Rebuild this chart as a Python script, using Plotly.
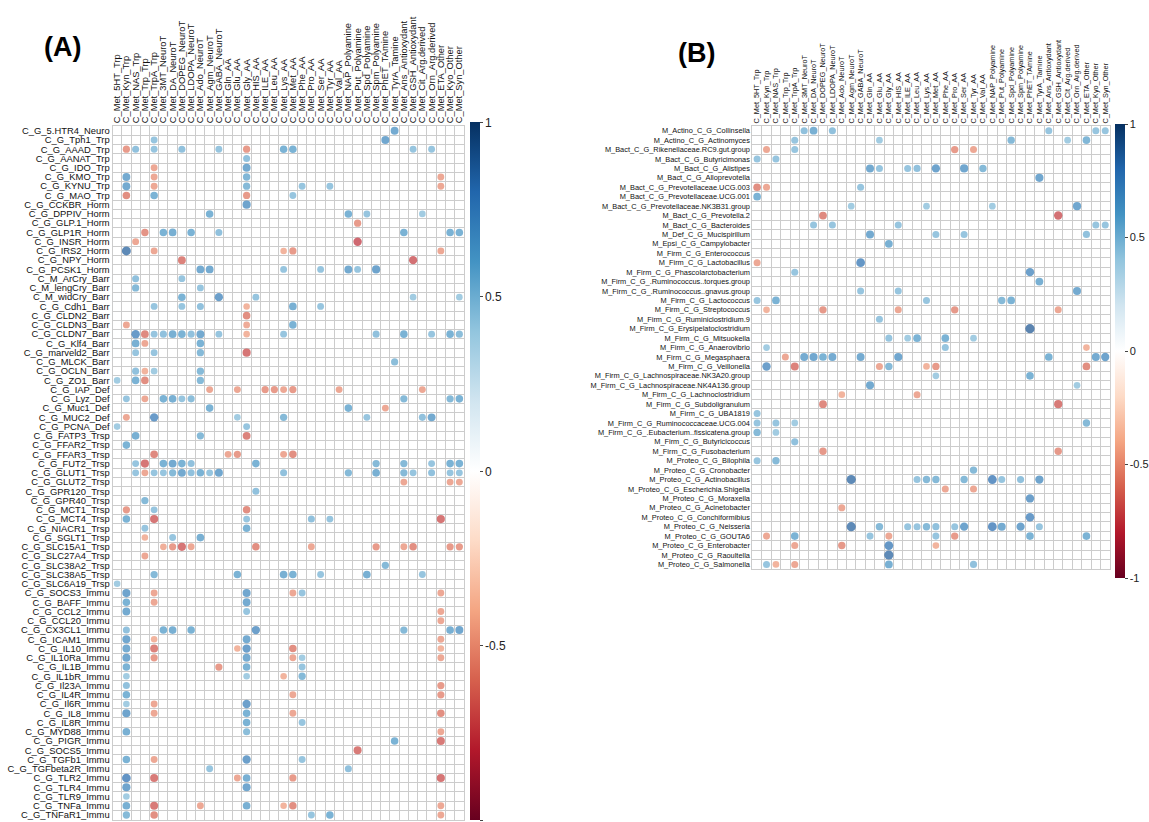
import math
import plotly.graph_objects as go

W, H = 1149, 822

# Metabolite columns shared by both panels
cols = ["C_Met_5HT_Trp", "C_Met_Kyn_Trp", "C_Met_NAS_Trp", "C_Met_Trp_Trp", "C_Met_TrpA_Trp",
        "C_Met_3MT_NeuroT", "C_Met_DA_NeuroT", "C_Met_DOPEG_NeuroT", "C_Met_LDOPA_NeuroT",
        "C_Met_Ado_NeuroT", "C_Met_Agm_NeuroT", "C_Met_GABA_NeuroT", "C_Met_Gln_AA", "C_Met_Glu_AA",
        "C_Met_Gly_AA", "C_Met_HIS_AA", "C_Met_ILE_AA", "C_Met_Leu_AA", "C_Met_Lys_AA", "C_Met_Met_AA",
        "C_Met_Phe_AA", "C_Met_Pro_AA", "C_Met_Ser_AA", "C_Met_Tyr_AA", "C_Met_Val_AA",
        "C_Met_NAP_Polyamine", "C_Met_Put_Polyamine", "C_Met_Spd_Polyamine", "C_Met_Spm_Polyamine",
        "C_Met_PhET_TAmine", "C_Met_TyrA_Tamine", "C_Met_Ans_Antioxydant", "C_Met_GSH_Antioxydant",
        "C_Met_Cit_Arg.derived", "C_Met_Orn_Arg.derived", "C_Met_ETA_Other", "C_Met_Kyo_Other",
        "C_Met_Syn_Other"]

# Panel A: host gene / mucosal variables
rows_a = ["C_G_5.HTR4_Neuro", "C_G_Tph1_Trp", "C_G_AAAD_Trp", "C_G_AANAT_Trp", "C_G_IDO_Trp",
          "C_G_KMO_Trp", "C_G_KYNU_Trp", "C_G_MAO_Trp", "C_G_CCKBR_Horm", "C_G_DPPIV_Horm",
          "C_G_GLP.1_Horm", "C_G_GLP1R_Horm", "C_G_INSR_Horm", "C_G_IRS2_Horm", "C_G_NPY_Horm",
          "C_G_PCSK1_Horm", "C_M_ArCry_Barr", "C_M_lengCry_Barr", "C_M_widCry_Barr", "C_G_Cdh1_Barr",
          "C_G_CLDN2_Barr", "C_G_CLDN3_Barr", "C_G_CLDN7_Barr", "C_G_Klf4_Barr", "C_G_marveld2_Barr",
          "C_G_MLCK_Barr", "C_G_OCLN_Barr", "C_G_ZO1_Barr", "C_G_IAP_Def", "C_G_Lyz_Def",
          "C_G_Muc1_Def", "C_G_MUC2_Def", "C_G_PCNA_Def", "C_G_FATP3_Trsp", "C_G_FFAR2_Trsp",
          "C_G_FFAR3_Trsp", "C_G_FUT2_Trsp", "C_G_GLUT1_Trsp", "C_G_GLUT2_Trsp", "C_G_GPR120_Trsp",
          "C_G_GPR40_Trsp", "C_G_MCT1_Trsp", "C_G_MCT4_Trsp", "C_G_NIACR1_Trsp", "C_G_SGLT1_Trsp",
          "C_G_SLC15A1_Trsp", "C_G_SLC27A4_Trsp", "C_G_SLC38A2_Trsp", "C_G_SLC38A5_Trsp",
          "C_G_SLC6A19_Trsp", "C_G_SOCS3_Immu", "C_G_BAFF_Immu", "C_G_CCL2_Immu", "C_G_CCL20_Immu",
          "C_G_CX3CL1_Immu", "C_G_ICAM1_Immu", "C_G_IL10_Immu", "C_G_IL10Ra_Immu", "C_G_IL1B_Immu",
          "C_G_IL1bR_Immu", "C_G_Il23A_Immu", "C_G_IL4R_Immu", "C_G_Il6R_Immu", "C_G_IL8_Immu",
          "C_G_IL8R_Immu", "C_G_MYD88_Immu", "C_G_PIGR_Immu", "C_G_SOCS5_Immu", "C_G_TGFb1_Immu",
          "C_G_TGFbeta2R_Immu", "C_G_TLR2_Immu", "C_G_TLR4_Immu", "C_G_TLR9_Immu", "C_G_TNFa_Immu",
          "C_G_TNFaR1_Immu"]

# significant correlations per row: (column index, r)
vals_a = [
    [(30, 0.65)],
    [(4, 0.5), (29, 0.68)],
    [(1, -0.55), (2, 0.52), (4, 0.5), (7, 0.52), (11, 0.5), (14, -0.55), (18, 0.6), (19, 0.6), (32, 0.5), (34, 0.5)],
    [(14, 0.52)],
    [(4, -0.5), (14, 0.66)],
    [(1, 0.66), (4, -0.5), (14, 0.58), (35, -0.5)],
    [(1, 0.66), (4, -0.5), (14, 0.56), (20, 0.5), (23, 0.5), (35, -0.5)],
    [(1, -0.6), (4, 0.6), (14, -0.55), (19, 0.5)],
    [(14, 0.7)],
    [(10, 0.6), (25, 0.6), (27, 0.5), (33, 0.46)],
    [(26, -0.55)],
    [(3, -0.58), (5, 0.6), (6, 0.62), (8, 0.6), (11, 0.52), (31, 0.6), (36, 0.6), (37, 0.6)],
    [(2, -0.5), (26, -0.75)],
    [(1, 0.85), (4, -0.5), (18, -0.45), (19, -0.55), (35, -0.5)],
    [(7, -0.65), (32, -0.72)],
    [(9, 0.65), (10, 0.65), (18, 0.5), (22, 0.5), (25, 0.66), (26, 0.5), (28, 0.7)],
    [(2, 0.52), (7, 0.5)],
    [(2, 0.56), (9, 0.5)],
    [(7, 0.6), (11, 0.72), (15, 0.5), (32, 0.46), (37, 0.46)],
    [(4, 0.5), (7, 0.5), (9, 0.52), (14, -0.45), (19, 0.62), (22, 0.5)],
    [(14, -0.6)],
    [(1, -0.5), (14, -0.48), (19, 0.6)],
    [(2, 0.75), (3, -0.62), (4, 0.5), (5, 0.52), (6, 0.62), (7, 0.6), (8, 0.52), (9, 0.66), (11, 0.5), (14, -0.45),
     (18, 0.5), (28, 0.52), (31, 0.6), (34, 0.5), (36, 0.6), (37, 0.54)],
    [(2, 0.62), (3, -0.5), (9, 0.6)],
    [(2, 0.5), (4, 0.5), (9, 0.56), (14, -0.7)],
    [(30, 0.54)],
    [(2, 0.52), (3, -0.45), (4, 0.46), (9, 0.56)],
    [(0, 0.46), (2, 0.6), (3, -0.6), (9, 0.56)],
    [(10, -0.5), (13, -0.5), (16, -0.55), (17, -0.55), (18, -0.5), (19, -0.55), (24, -0.5), (33, -0.5)],
    [(1, 0.5), (3, -0.5), (5, 0.6), (6, 0.62), (7, 0.5), (8, 0.54), (31, 0.56), (36, 0.56), (37, 0.6)],
    [(10, 0.6), (25, 0.6), (29, -0.5)],
    [(1, -0.5), (4, 0.75), (13, 0.46), (18, 0.56), (27, 0.5), (33, 0.52), (34, 0.66)],
    [(0, 0.46), (14, 0.5)],
    [(2, 0.62), (9, 0.56), (14, -0.65)],
    [(1, 0.6)],
    [(4, -0.62), (12, -0.5), (13, -0.55), (18, -0.5), (19, -0.6)],
    [(2, 0.5), (3, -0.7), (5, 0.6), (6, 0.66), (7, 0.6), (8, 0.52), (15, 0.6), (28, 0.56), (31, 0.56), (34, 0.5),
     (36, 0.6), (37, 0.6)],
    [(2, 0.5), (3, -0.5), (4, 0.5), (5, 0.5), (6, 0.56), (7, 0.66), (8, 0.52), (9, 0.6), (10, 0.5), (11, 0.68),
     (18, 0.52), (25, 0.56), (28, 0.62), (31, 0.56), (32, 0.5), (34, 0.52), (36, 0.5), (37, 0.5)],
    [(31, -0.5), (36, -0.5), (37, -0.5)],
    [(15, 0.52)],
    [(3, 0.56)],
    [(1, -0.55), (4, 0.5), (14, -0.6)],
    [(1, 0.6), (4, -0.7), (14, 0.5), (21, 0.52), (23, 0.5), (35, -0.7)],
    [(3, 0.5), (14, 0.6)],
    [(3, -0.45), (6, 0.5), (9, 0.62)],
    [(5, -0.47), (6, -0.55), (7, -0.7), (8, -0.5), (15, -0.6), (21, -0.5), (28, -0.55), (31, -0.5), (32, -0.6),
     (36, -0.55), (37, -0.55)],
    [(3, -0.5)],
    [(29, 0.56)],
    [(4, 0.56), (13, 0.6), (18, 0.62), (19, 0.6), (22, 0.5), (27, 0.62), (33, 0.5)],
    [(0, 0.46)],
    [(1, 0.7), (4, -0.5), (14, 0.68), (19, -0.5), (20, 0.5), (35, -0.5)],
    [(1, 0.6), (4, -0.5), (14, 0.65)],
    [(1, 0.65), (14, 0.5), (35, -0.5)],
    [(35, -0.5)],
    [(1, 0.52), (5, 0.6), (6, 0.62), (8, 0.6), (15, 0.72), (31, 0.56), (36, 0.62), (37, 0.68)],
    [(1, 0.68), (4, -0.45), (14, 0.65), (35, -0.5)],
    [(1, 0.65), (4, -0.65), (13, -0.45), (14, 0.72), (19, -0.6), (35, -0.45)],
    [(1, 0.68), (4, -0.55), (14, 0.65), (19, -0.5), (20, 0.46), (35, -0.5)],
    [(1, 0.6), (11, -0.55), (14, 0.6), (20, 0.5)],
    [(1, 0.46), (14, 0.46), (18, -0.45), (20, 0.56)],
    [(1, 0.52), (35, -0.55)],
    [(1, 0.6), (19, -0.5), (35, -0.55)],
    [(1, 0.46), (4, -0.5), (14, 0.72)],
    [(1, 0.7), (4, -0.5), (14, 0.6), (19, -0.5), (35, -0.6)],
    [(14, 0.6), (20, 0.5)],
    [(1, 0.62), (14, 0.54), (35, -0.5)],
    [(30, 0.6), (35, -0.68)],
    [(26, -0.68)],
    [(1, 0.6), (4, -0.5), (14, 0.72), (20, 0.5)],
    [(10, 0.5), (25, 0.52)],
    [(1, 0.8), (4, -0.68), (13, -0.5), (14, 0.62), (19, -0.55), (35, -0.7)],
    [(1, 0.7), (14, 0.68)],
    [(1, 0.46)],
    [(1, 0.62), (4, -0.68), (9, -0.5), (14, 0.62), (18, -0.45), (19, -0.6), (35, -0.5)],
    [(1, 0.56), (4, -0.6), (21, 0.5), (23, 0.6), (35, -0.5)],
]

# Panel B: microbial genera
rows_b = ["M_Actino_C_G_Collinsella", "M_Actino_C_G_Actinomyces", "M_Bact_C_G_Rikenellaceae.RC9.gut.group",
          "M_Bact_C_G_Butyricimonas", "M_Bact_C_G_Alistipes", "M_Bact_C_G_Alloprevotella",
          "M_Bact_C_G_Prevotellaceae.UCG.003", "M_Bact_C_G_Prevotellaceae.UCG.001",
          "M_Bact_C_G_Prevotellaceae.NK3B31.group", "M_Bact_C_G_Prevotella.2", "M_Bact_C_G_Bacteroides",
          "M_Def_C_G_Mucispirillum", "M_Epsi_C_G_Campylobacter", "M_Firm_C_G_Enterococcus",
          "M_Firm_C_G_Lactobacillus", "M_Firm_C_G_Phascolarctobacterium",
          "M_Firm_C_G_.Ruminococcus..torques.group", "M_Firm_C_G_.Ruminococcus..gnavus.group",
          "M_Firm_C_G_Lactococcus", "M_Firm_C_G_Streptococcus", "M_Firm_C_G_Ruminiclostridium.9",
          "M_Firm_C_G_Erysipelatoclostridium", "M_Firm_C_G_Mitsuokella", "M_Firm_C_G_Anaerovibrio",
          "M_Firm_C_G_Megasphaera", "M_Firm_C_G_Veillonella", "M_Firm_C_G_Lachnospiraceae.NK3A20.group",
          "M_Firm_C_G_Lachnospiraceae.NK4A136.group", "M_Firm_C_G_Lachnoclostridium",
          "M_Firm_C_G_Subdoligranulum", "M_Firm_C_G_UBA1819", "M_Firm_C_G_Ruminococcaceae.UCG.004",
          "M_Firm_C_G_.Eubacterium..fissicatena.group", "M_Firm_C_G_Butyricicoccus",
          "M_Firm_C_G_Fusobacterium", "M_Proteo_C_G_Bilophila", "M_Proteo_C_G_Cronobacter",
          "M_Proteo_C_G_Actinobacillus", "M_Proteo_C_G_Escherichia.Shigella", "M_Proteo_C_G_Moraxella",
          "M_Proteo_C_G_Acinetobacter", "M_Proteo_C_G_Conchiformibius", "M_Proteo_C_G_Neisseria",
          "M_Proteo_C_G_GOUTA6", "M_Proteo_C_G_Enterobacter", "M_Proteo_C_G_Raoultella",
          "M_Proteo_C_G_Salmonella"]

vals_b = [
    [(5, 0.52), (6, 0.62), (8, 0.52), (31, 0.5), (36, 0.5), (37, 0.5)],
    [(4, 0.5), (13, 0.46), (27, 0.56), (33, 0.46), (35, 0.58)],
    [(1, -0.5), (4, 0.5), (21, -0.55), (23, -0.5)],
    [(0, 0.5), (2, 0.5)],
    [(12, 0.66), (13, 0.5), (16, 0.5), (17, 0.52), (19, 0.7), (22, 0.68), (24, 0.56)],
    [(30, 0.68)],
    [(0, -0.6), (1, -0.5), (11, 0.5)],
    [(0, 0.6)],
    [(10, 0.46), (18, 0.46), (25, 0.46), (34, 0.68)],
    [(7, -0.62), (32, -0.72)],
    [(6, 0.5), (8, 0.5), (15, 0.5), (36, 0.5), (37, 0.5)],
    [(12, 0.66), (19, 0.5), (22, 0.5), (35, 0.52)],
    [(14, 0.62)],
    [],
    [(0, -0.5), (11, 0.78)],
    [(4, 0.5), (29, 0.72)],
    [(30, 0.62)],
    [(11, 0.5), (15, 0.5), (34, 0.66)],
    [(0, 0.5), (2, 0.6), (18, 0.5), (26, 0.56), (27, 0.6)],
    [(1, -0.45), (7, -0.56), (15, -0.5), (21, -0.56), (32, -0.5)],
    [(13, 0.5)],
    [(29, 0.88)],
    [(14, 0.5), (16, 0.46), (17, 0.6), (20, 0.6), (23, 0.46)],
    [(1, 0.46), (20, 0.5), (35, -0.45)],
    [(3, -0.5), (5, 0.65), (6, 0.68), (7, 0.6), (8, 0.65), (11, 0.65), (15, 0.68), (31, 0.6), (36, 0.65),
     (37, 0.7)],
    [(1, 0.72), (4, -0.65), (13, -0.5), (14, 0.56), (18, -0.45), (19, -0.55), (35, -0.6)],
    [(19, 0.46), (29, 0.6)],
    [(12, 0.66), (34, 0.46)],
    [(9, -0.45), (17, -0.5)],
    [(7, -0.62), (32, -0.68)],
    [(0, 0.5)],
    [(0, 0.5), (2, 0.5), (4, 0.46), (35, 0.56)],
    [(0, 0.56), (2, 0.46)],
    [(4, 0.52)],
    [(7, -0.56), (32, -0.56)],
    [(0, 0.5), (2, 0.56)],
    [(23, 0.56)],
    [(10, 0.85), (17, 0.5), (18, 0.56), (19, 0.56), (22, 0.56), (25, 0.8), (26, 0.5), (28, 0.52), (30, 0.7)],
    [(20, -0.5), (23, -0.5)],
    [(29, 0.72)],
    [(9, -0.5)],
    [(29, 0.75)],
    [(10, 0.85), (13, 0.56), (16, 0.5), (17, 0.5), (18, 0.56), (19, 0.52), (21, 0.5), (22, 0.7), (25, 0.8),
     (26, 0.65), (28, 0.7), (30, 0.5)],
    [(1, -0.5), (4, 0.6), (12, 0.5), (14, -0.5), (19, 0.5), (21, -0.55), (29, 0.6), (35, 0.6)],
    [(4, -0.5), (9, -0.56), (14, 0.78), (19, -0.45)],
    [(14, 0.85)],
    [(1, 0.5), (2, -0.45), (4, -0.5), (14, 0.62), (23, 0.52)],
]

# corrplot-style red/blue diverging scale
rdbu = [[0.0, "#67001F"], [0.1, "#B2182B"], [0.2, "#D6604D"], [0.3, "#F4A582"], [0.4, "#FDDBC7"],
        [0.5, "#FFFFFF"], [0.6, "#D1E5F0"], [0.7, "#92C5DE"], [0.8, "#4393C3"], [0.9, "#2166AC"],
        [1.0, "#053061"]]

FONT = "Arial, Liberation Sans, sans-serif"
GRID = "#cccccc"


def px_x(p):
    return p / W


def px_y(p):
    return 1 - p / H


def points(vals, x0, x1):
    xs, ys, rs = [], [], []
    for i, cells in enumerate(vals):
        for j, r in cells:
            xs.append(j)
            ys.append(i)
            rs.append(r)
    cell = (x1 - x0) / len(cols)
    # circle area proportional to |r|
    sizes = [cell * 1.05 * math.sqrt(abs(r)) for r in rs]
    return xs, ys, rs, sizes


# pixel frames of the two grids
A = dict(x0=113, x1=466, y0=125.4, y1=820.6)
B = dict(x0=755.7, x1=1114.8, y0=125.3, y1=569.5)

fig = go.Figure()

panels = [
    (rows_a, vals_a, A, dict(x=472, top=121.7, length=698), 9.3, 9.4, 12),
    (rows_b, vals_b, B, dict(x=1120, top=123.3, length=454), 7.3, 7.4, 11),
]

for k, (rows, vals, fr, cb, fs_x, fs_y, fs_cb) in enumerate(panels):
    xs, ys, rs, sizes = points(vals, fr["x0"], fr["x1"])
    suffix = "" if k == 0 else "2"
    fig.add_trace(go.Scatter(
        x=xs, y=ys, mode="markers", hoverinfo="skip",
        xaxis="x" + suffix, yaxis="y" + suffix,
        marker=dict(size=sizes, color=rs, colorscale=rdbu, cmin=-1, cmax=1, line=dict(width=0),
                    showscale=True,
                    colorbar=dict(x=px_x(cb["x"]), xanchor="left", y=px_y(cb["top"]), yanchor="top",
                                  lenmode="pixels", len=cb["length"], thicknessmode="pixels", thickness=10,
                                  xpad=0, ypad=0, outlinewidth=0,
                                  tickmode="array", tickvals=[-1, -0.5, 0, 0.5, 1],
                                  ticktext=["-1", "-0.5", "0", "0.5", "1"],
                                  ticks="outside", ticklen=3, tickcolor="#444",
                                  tickfont=dict(family=FONT, size=fs_cb, color="#222")))))

    common = dict(showgrid=False, zeroline=False, ticks="", showline=True, mirror=True,
                  linecolor=GRID, linewidth=1, fixedrange=True,
                  minor=dict(tick0=0.5, dtick=1, showgrid=True, gridcolor=GRID, gridwidth=1, ticks=""))
    fig.update_layout(**{
        "xaxis" + suffix: dict(domain=[px_x(fr["x0"]), px_x(fr["x1"])], range=[-0.5, len(cols) - 0.5],
                               tickmode="array", tickvals=list(range(len(cols))), ticktext=cols,
                               side="top", tickangle=-90, anchor="y" + suffix,
                               tickfont=dict(family=FONT, size=fs_x, color="#111"), **common),
        "yaxis" + suffix: dict(domain=[px_y(fr["y1"]), px_y(fr["y0"])], range=[len(rows) - 0.5, -0.5],
                               tickmode="array", tickvals=list(range(len(rows))), ticktext=rows,
                               anchor="x" + suffix,
                               tickfont=dict(family=FONT, size=fs_y, color="#111"), **common),
    })

for label, cx, cy in [("(A)", 63, 46), ("(B)", 700, 52)]:
    fig.add_annotation(text="<b>" + label + "</b>", x=px_x(cx), y=px_y(cy), xref="paper", yref="paper",
                       xanchor="center", yanchor="middle", showarrow=False,
                       font=dict(family=FONT, size=27, color="#000"))

fig.update_layout(width=W, height=H, autosize=False, margin=dict(l=0, r=0, t=0, b=0),
                  paper_bgcolor="white", plot_bgcolor="white", showlegend=False,
                  hovermode=False)

fig.write_html("out.html")
